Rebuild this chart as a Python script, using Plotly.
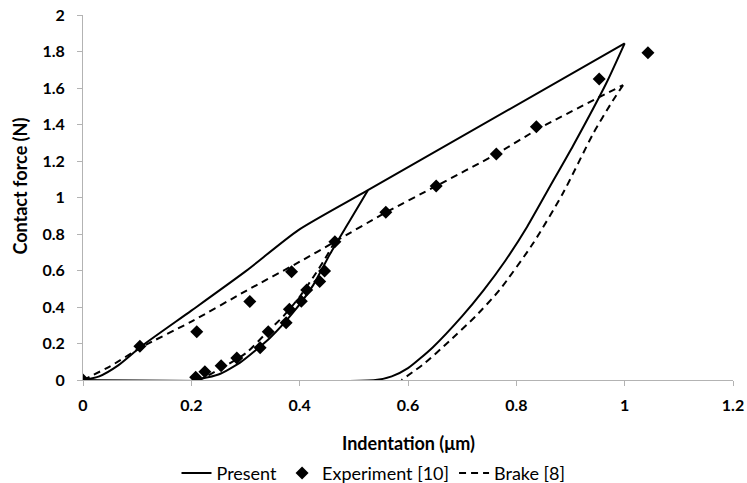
import plotly.graph_objects as go

# ---- data ----
present_load_x = [0, 0.03, 0.065, 0.108, 0.2, 0.3, 0.397, 0.526, 1.0]
present_load_y = [0, 0.02, 0.08, 0.185, 0.38, 0.595, 0.82, 1.04, 1.845]
present_unload1_x = [0.526, 0.49, 0.456, 0.425, 0.388, 0.345, 0.29, 0.25, 0.207]
present_unload1_y = [1.04, 0.86, 0.69, 0.52, 0.37, 0.23, 0.095, 0.03, 0]
present_unload2_x = [1.0, 0.966, 0.905, 0.862, 0.82, 0.78, 0.739, 0.70, 0.646, 0.60, 0.57, 0.54, 0]
present_unload2_y = [1.845, 1.626, 1.285, 1.06, 0.84, 0.655, 0.49, 0.35, 0.18, 0.065, 0.02, 0, 0]

exp_x = [0, 0.105, 0.208, 0.21, 0.225, 0.255, 0.284, 0.308, 0.327, 0.342, 0.375,
         0.381, 0.385, 0.403, 0.413, 0.437, 0.446, 0.465, 0.559, 0.652, 0.763,
         0.837, 0.953, 1.043]
exp_y = [0, 0.185, 0.015, 0.265, 0.045, 0.078, 0.12, 0.43, 0.177, 0.265, 0.314,
         0.387, 0.593, 0.432, 0.493, 0.54, 0.597, 0.758, 0.919, 1.063, 1.238,
         1.388, 1.649, 1.793]

brake_load_x = [0, 0.05, 0.108, 0.2, 0.302, 0.4, 0.465, 0.557, 0.652, 0.763, 0.843, 0.997]
brake_load_y = [0, 0.075, 0.18, 0.32, 0.49, 0.648, 0.758, 0.915, 1.063, 1.238, 1.38, 1.616]
brake_unload1_x = [0.465, 0.446, 0.431, 0.40, 0.37, 0.336, 0.302, 0.259, 0.215]
brake_unload1_y = [0.758, 0.66, 0.59, 0.456, 0.35, 0.25, 0.15, 0.07, 0]
brake_unload2_x = [0.997, 0.975, 0.942, 0.886, 0.831, 0.769, 0.725, 0.677, 0.63, 0.588]
brake_unload2_y = [1.616, 1.516, 1.351, 1.023, 0.749, 0.493, 0.35, 0.215, 0.09, 0]

x_ticks = [0, 0.2, 0.4, 0.6, 0.8, 1, 1.2]
y_ticks = [0, 0.2, 0.4, 0.6, 0.8, 1, 1.2, 1.4, 1.6, 1.8, 2]
x_title = "Indentation (μm)"
y_title = "Contact force (N)"

font_family = "Lato, 'Liberation Sans', sans-serif"

fig = go.Figure()

present_segs = [(present_load_x, present_load_y),
                (present_unload1_x, present_unload1_y),
                (present_unload2_x, present_unload2_y)]
for i, (sx, sy) in enumerate(present_segs):
    fig.add_trace(go.Scatter(x=sx, y=sy, mode="lines", name="Present",
                             legendgroup="present", showlegend=(i == 0),
                             legendrank=1,
                             line=dict(color="black", width=2,
                                       shape="spline", smoothing=0.6)))

fig.add_trace(go.Scatter(x=exp_x, y=exp_y, mode="markers", name="Experiment [10]",
                         legendrank=2,
                         marker=dict(symbol="diamond", color="black", size=10)))

brake_segs = [(brake_load_x, brake_load_y),
              (brake_unload1_x, brake_unload1_y),
              (brake_unload2_x, brake_unload2_y)]
for i, (sx, sy) in enumerate(brake_segs):
    fig.add_trace(go.Scatter(x=sx, y=sy, mode="lines", name="Brake [8]",
                             legendgroup="brake", showlegend=(i == 0),
                             legendrank=3,
                             line=dict(color="black", width=2, dash="7px,5px",
                                       shape="spline", smoothing=0.6)))

axis_common = dict(showgrid=False, zeroline=False, showline=True,
                   linecolor="#B3B3B3", linewidth=1, ticks="outside",
                   ticklen=5, tickcolor="#B3B3B3", automargin=False,
                   tickfont=dict(family=font_family, size=16, color="black"))

fig.update_layout(
    width=747, height=483,
    margin=dict(l=83, r=14, t=15, b=103),
    paper_bgcolor="white", plot_bgcolor="white",
    font=dict(family=font_family, color="black"),
    showlegend=True,
    legend=dict(orientation="h", xref="container", yref="container",
                x=0.5, xanchor="center", y=0.02, yanchor="middle",
                font=dict(family=font_family, size=18, color="black"),
                itemwidth=30, tracegroupgap=0),
    xaxis=dict(range=[0, 1.2], tickvals=x_ticks,
               ticktext=[f"<b>{v:g}</b>" for v in x_ticks],
               ticklabelstandoff=6, **axis_common),
    yaxis=dict(range=[0, 2], tickvals=y_ticks,
               ticktext=[f"<b>{v:g}</b>" for v in y_ticks],
               ticklabelstandoff=9, **axis_common),
    annotations=[
        dict(text=f"<b>{x_title}</b>", xref="paper", yref="paper",
             x=0.5, y=0, yshift=-63, xanchor="center", yanchor="middle",
             showarrow=False, font=dict(family=font_family, size=18, color="black")),
        dict(text=f"<b>{y_title}</b>", xref="paper", yref="paper",
             x=0, y=0.53, xshift=-63, xanchor="center", yanchor="middle",
             textangle=-90, showarrow=False,
             font=dict(family=font_family, size=18, color="black")),
    ],
)

fig.write_html("out.html", config={"displayModeBar": False},
               post_script="document.body.style.margin='0';")
